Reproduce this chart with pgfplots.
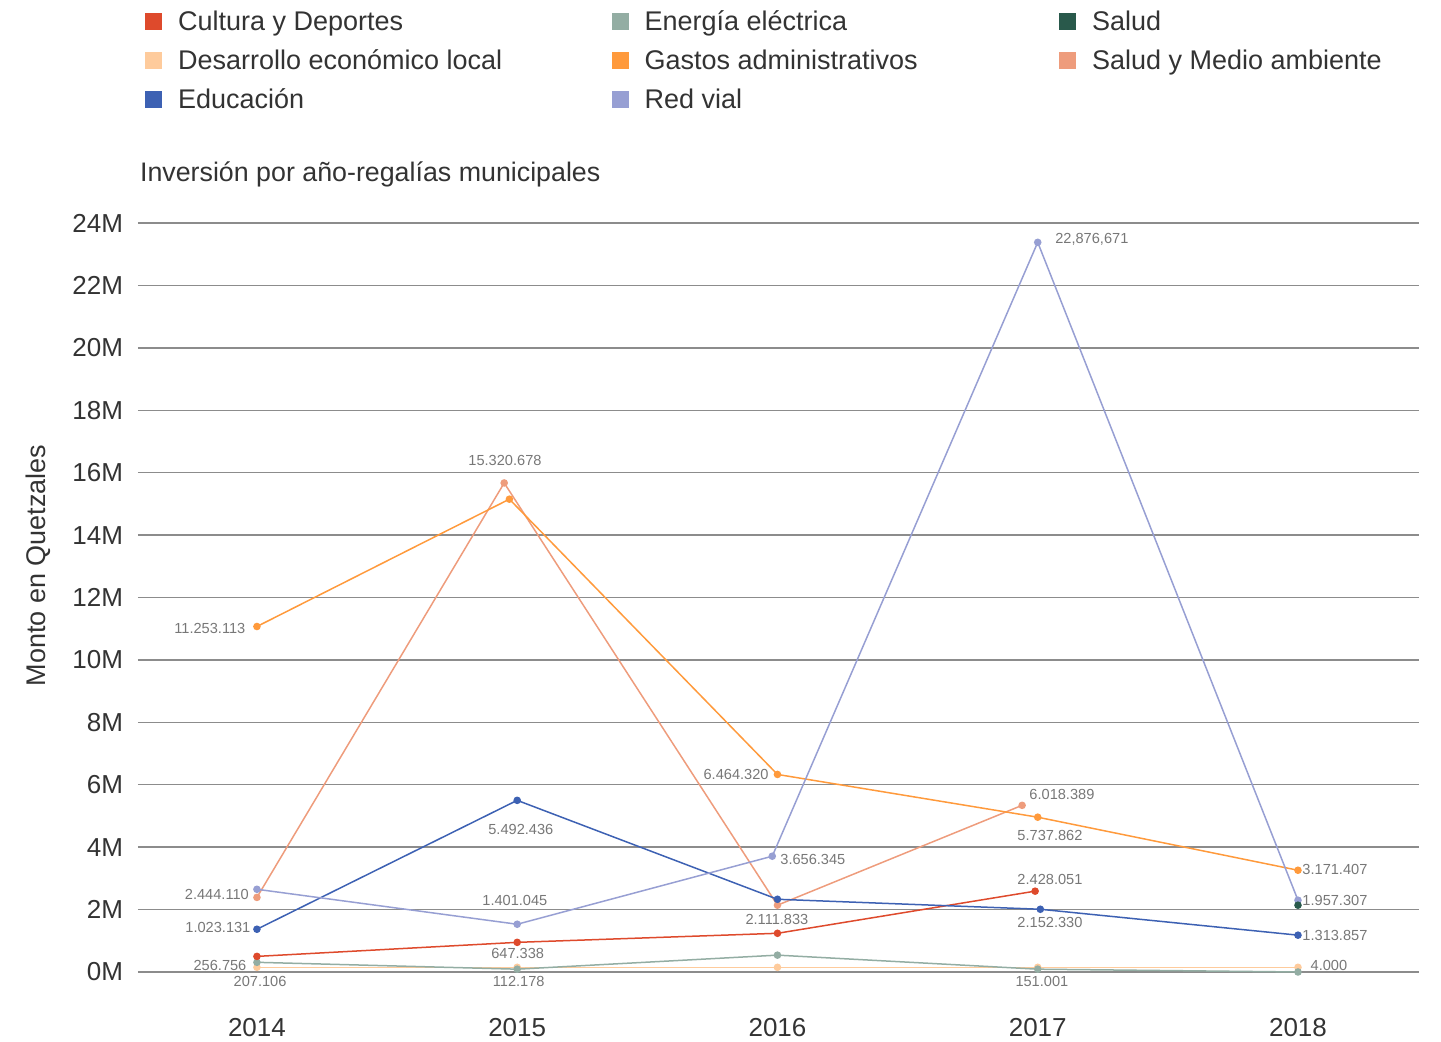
\documentclass[border=0pt]{standalone}
\usepackage{fontspec}
\setmainfont{Liberation Sans}
\usepackage{pgfplots}
\pgfplotsset{compat=1.18}

\definecolor{cultura}{HTML}{DE4A2C}
\definecolor{desarrollo}{HTML}{FECB9C}
\definecolor{educacion}{HTML}{3D61B3}
\definecolor{energia}{HTML}{93ADA3}
\definecolor{gastos}{HTML}{FF9A3C}
\definecolor{redvial}{HTML}{979FD3}
\definecolor{salud}{HTML}{29594B}
\definecolor{saludma}{HTML}{EE9C7C}
\definecolor{txt}{HTML}{333333}
\definecolor{lbl}{HTML}{777777}

\tikzset{dl/.style={font=\fontsize{7.3}{9}\selectfont, text=lbl}}

\begin{document}
\begin{tikzpicture}
\begin{axis}[
  scale only axis,
  width=640.5pt, height=374.5pt,
  xmin=2013.543, xmax=2018.465,
  ymin=0, ymax=24,
  xtick={2014,2015,2016,2017,2018},
  xticklabels={2014,2015,2016,2017,2018},
  ytick={0,2,...,24},
  yticklabels={0M,2M,4M,6M,8M,10M,12M,14M,16M,18M,20M,22M,24M},
  axis line style={draw=none},
  major tick style={draw=none},
  ymajorgrids,
  grid style={color=black!45, line width=0.7pt},
  tick label style={font=\fontsize{13}{15}\selectfont, text=txt},
  /pgf/number format/assume math mode=true,
  xticklabel style={yshift=-19.5pt},
  yticklabel style={xshift=-4pt},
  clip=false,
  every axis plot/.append style={line width=0.75pt, mark=*, mark size=1.5pt},
]
% values in millions of quetzales
\addplot[color=desarrollo] coordinates {(2014,0.15)(2015,0.15)(2016,0.15)(2017,0.15)(2018,0.15)};
\addplot[color=energia] coordinates {(2014,0.31)(2015,0.09)(2016,0.54)(2017,0.09)(2018,0.0)};
\addplot[color=cultura] coordinates {(2014,0.50)(2015,0.95)(2016,1.24)(2016.99,2.59)};
\addplot[color=saludma] coordinates {(2014,2.39)(2014.95,15.67)(2016,2.14)(2016.94,5.34)};
\addplot[color=gastos] coordinates {(2014,11.07)(2014.97,15.15)(2016,6.33)(2017,4.96)(2018,3.26)};
\addplot[color=educacion] coordinates {(2014,1.37)(2015,5.50)(2016,2.33)(2017.01,2.01)(2018,1.18)};
\addplot[color=redvial] coordinates {(2014,2.65)(2015,1.53)(2015.98,3.71)(2017,23.38)(2018,2.30)};
\addplot[color=salud] coordinates {(2018,2.14)};

% data labels
\node[dl] at (axis cs:2013.819,11.02) {11.253.113};
\node[dl] at (axis cs:2014.953,16.40) {15.320.678};
\node[dl] at (axis cs:2013.846,2.49) {2.444.110};
\node[dl] at (axis cs:2013.850,1.43) {1.023.131};
\node[dl] at (axis cs:2013.858,0.215) {256.756};
\node[dl] at (axis cs:2014.012,-0.30) {207.106};
\node[dl] at (axis cs:2014.991,2.30) {1.401.045};
\node[dl] at (axis cs:2015.014,4.57) {5.492.436};
\node[dl] at (axis cs:2015.002,0.60) {647.338};
\node[dl] at (axis cs:2015.006,-0.30) {112.178};
\node[dl] at (axis cs:2015.841,6.34) {6.464.320};
\node[dl] at (axis cs:2016.136,3.61) {3.656.345};
\node[dl] at (axis cs:2015.998,1.69) {2.111.833};
\node[dl] at (axis cs:2017.208,23.48) {22,876,671};
\node[dl] at (axis cs:2017.093,5.70) {6.018.389};
\node[dl] at (axis cs:2017.047,4.38) {5.737.862};
\node[dl] at (axis cs:2017.047,2.97) {2.428.051};
\node[dl] at (axis cs:2017.047,1.59) {2.152.330};
\node[dl] at (axis cs:2017.016,-0.30) {151.001};
\node[dl] at (axis cs:2018.142,3.29) {3.171.407};
\node[dl] at (axis cs:2018.142,2.30) {1.957.307};
\node[dl] at (axis cs:2018.142,1.18) {1.313.857};
\node[dl] at (axis cs:2018.119,0.21) {4.000};
\end{axis}

% title and y label
\node[anchor=west, text=txt, font=\fontsize{13.4}{15}\selectfont]
  at ([xshift=-2.5pt, yshift=24.5pt]current axis.north west) {Inversión por año-regalías municipales};
\node[rotate=90, text=txt, font=\fontsize{13.5}{15}\selectfont]
  at ([xshift=-50pt, yshift=16pt]current axis.west) {Monto en Quetzales};

% legend
\begin{scope}[shift={(current axis.north west)},
  lg/.style={anchor=base west, text=txt, font=\fontsize{13.5}{15}\selectfont}]
  \foreach \c/\t/\x/\y in {
    cultura/Cultura y Deportes/0/100.5,
    desarrollo/Desarrollo económico local/0/81,
    educacion/Educación/0/61.5,
    energia/Energía eléctrica/233.3/100.5,
    gastos/Gastos administrativos/233.3/81,
    redvial/Red vial/233.3/61.5,
    salud/Salud/457/100.5,
    saludma/Salud y Medio ambiente/457/81} {
    \fill[\c] (3.5pt+\x pt,\y pt-4.25pt) rectangle ++(8.5pt,8.5pt);
    \node[lg] at (16.5pt+\x pt,\y pt-4.5pt) {\t};
  }
\end{scope}

\pgfresetboundingbox
\useasboundingbox ([xshift=-69pt, yshift=-35pt]current axis.south west)
  rectangle ([xshift=11pt, yshift=111.5pt]current axis.north east);
\end{tikzpicture}
\end{document}
